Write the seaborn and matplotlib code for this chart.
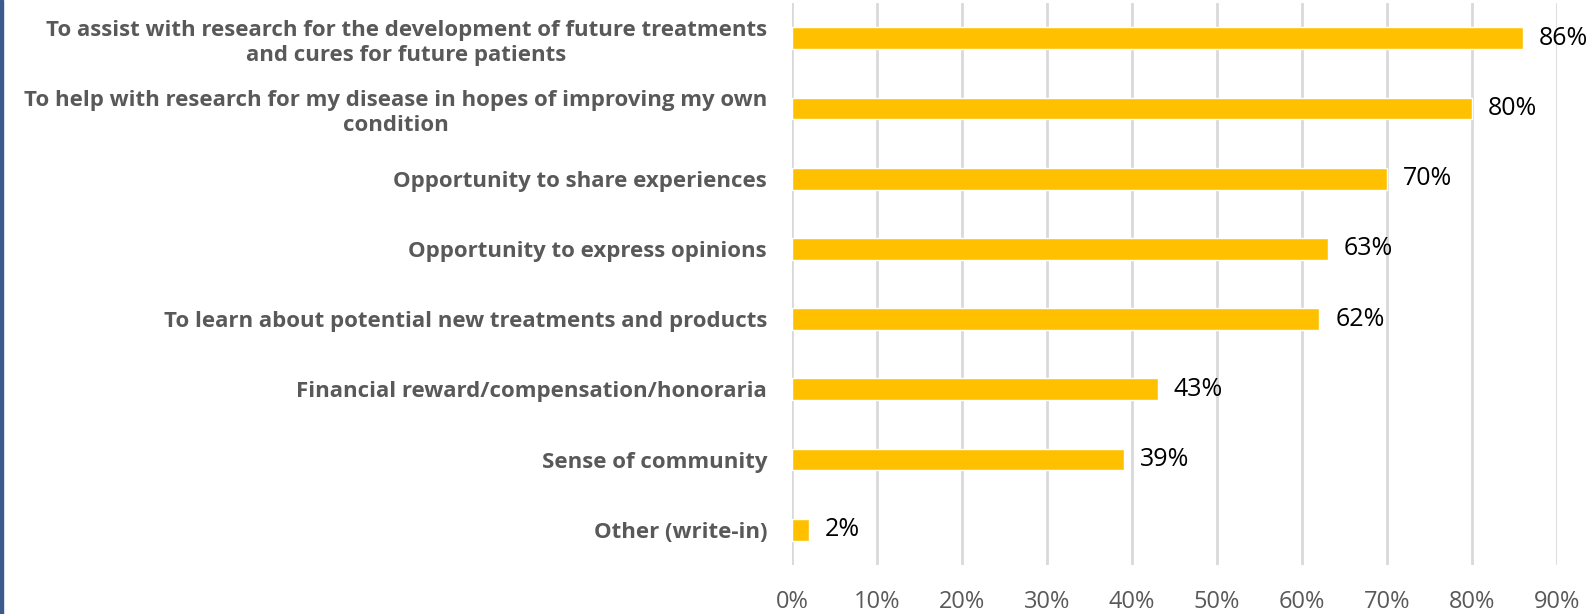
import matplotlib
matplotlib.use("Agg")
import matplotlib.pyplot as plt
import seaborn as sns
import pandas as pd
from matplotlib.patches import Rectangle

categories = [
    "To assist with research for the development of future treatments\nand cures for future patients",
    "To help with research for my disease in hopes of improving my own\ncondition",
    "Opportunity to share experiences",
    "Opportunity to express opinions",
    "To learn about potential new treatments and products",
    "Financial reward/compensation/honoraria",
    "Sense of community",
    "Other (write-in)",
]
values = [86, 80, 70, 63, 62, 43, 39, 2]
tick_values = [0, 10, 20, 30, 40, 50, 60, 70, 80, 90]
tick_labels = [f"{v}%" for v in tick_values]

sns.set_theme(style="white")
plt.rcParams['font.family'] = ['Open Sans', 'DejaVu Sans']

df = pd.DataFrame({"cat": categories, "val": values})

fig = plt.figure(figsize=(15.95, 6.14), dpi=100)
ax = fig.add_axes([0.4966, 0.080, 0.4796, 0.915])

sns.barplot(data=df, y="cat", x="val", orient="h", color="#FFC000",
            width=0.31, ax=ax, saturation=1)

ax.set_xlim(0, 90)
ax.set_ylim(len(categories) - 0.5, -0.5)
ax.set_xticks(tick_values)
ax.set_xticklabels(tick_labels)
ax.set_xlabel("")
ax.set_ylabel("")
ax.grid(axis="x", color="#d9d9d9", linewidth=2)
ax.set_axisbelow(True)
for s in ax.spines.values():
    s.set_visible(False)

ax.tick_params(axis="x", length=0, pad=18, labelsize=17, labelcolor="#595959")
ax.tick_params(axis="y", length=0, pad=18, labelsize=16, labelcolor="#595959")
for lab in ax.get_yticklabels():
    lab.set_fontweight("bold")
    lab.set_multialignment("center")
    lab.set_linespacing(1.25)

for i, v in enumerate(values):
    ax.text(v + 1.9, i, f"{v}%", va="center", ha="left", fontsize=18, color="black")

fig.add_artist(Rectangle((0, 0), 3 / 1595, 1, transform=fig.transFigure,
                         color="#3B5B8C", zorder=10))

fig.savefig("out.png", dpi=100)
